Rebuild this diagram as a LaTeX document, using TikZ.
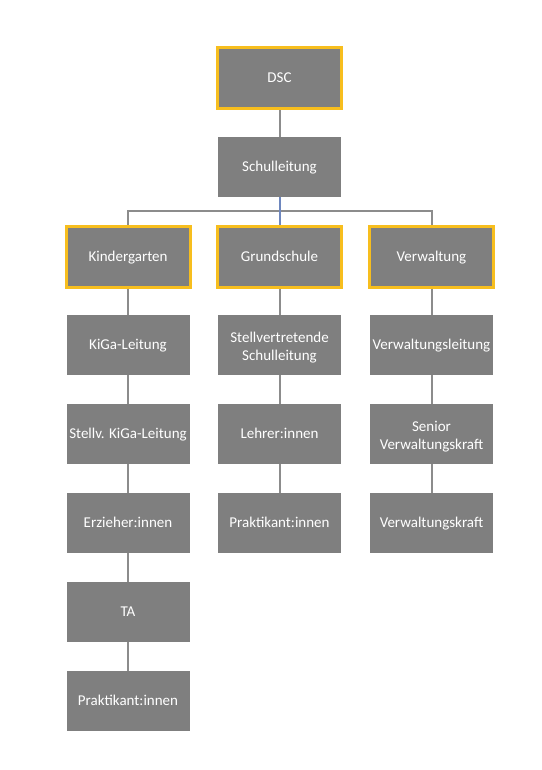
\documentclass[tikz,border=0pt]{standalone}
\usepackage{fontspec}
\setmainfont{Carlito}
\definecolor{boxgray}{RGB}{127,127,127}
\definecolor{boxyellow}{RGB}{247,190,30}
\definecolor{linegray}{RGB}{140,140,140}
\definecolor{lineblue}{RGB}{110,135,190}
\newcommand{\topstrut}{\rule{0pt}{15.5bp}}
\begin{document}
\begin{tikzpicture}[x=1bp,y=-1bp,
  basebox/.style={fill=boxgray,draw=none,minimum width=123bp,minimum height=60bp,
    inner sep=1bp,align=center,text=white,font=\fontsize{15bp}{17.5bp}\selectfont},
  unit/.style={basebox,text height=12.5bp,text depth=3bp},
  twounit/.style={basebox},
  headunit/.style={unit,draw=boxyellow,line width=3bp,minimum width=124bp,minimum height=61bp},
  conn/.style={draw=linegray,line width=2bp}]
\fill[white] (0,0) rectangle (542,770);
\useasboundingbox (0,0) rectangle (542,770);
% top
\node[headunit] (dsc) at (279.5,78) {DSC};
\node[unit] (sl) at (279.5,167) {Schulleitung};
% level 2
\node[headunit] (kg) at (128,256.5) {Kindergarten};
\node[headunit] (gs) at (279.5,256.5) {Grundschule};
\node[headunit] (vw) at (431.5,256.5) {Verwaltung};
% Kindergarten column
\node[unit] (kgl) at (128,345) {KiGa-Leitung};
\node[unit] (skgl) at (128,434) {Stellv. KiGa-Leitung};
\node[unit] (erz) at (128,523) {Erzieher:innen};
\node[unit] (ta) at (128,612) {TA};
\node[unit] (pk1) at (128,701) {Praktikant:innen};
% Grundschule column
\node[twounit] (ssl) at (279.5,345) {\topstrut Stellvertretende\\Schulleitung};
\node[unit] (leh) at (279.5,434) {Lehrer:innen};
\node[unit] (pk2) at (279.5,523) {Praktikant:innen};
% Verwaltung column
\node[unit] (vwl) at (431.5,345) {Verwaltungsleitung};
\node[twounit] (svk) at (431.5,434) {\topstrut Senior\\Verwaltungskraft};
\node[unit] (vk) at (431.5,523) {Verwaltungskraft};
% connectors
\coordinate (bar) at (279.5,210.5);
\draw[conn] (dsc.south) -- (sl.north);
\draw[conn] (kg.north) -- (kg.north |- bar) -- (vw.north |- bar) -- (vw.north);
\draw[conn,draw=lineblue] (sl.south) -- (gs.north);
\draw[conn] (kg) -- (kgl);
\draw[conn] (kgl) -- (skgl);
\draw[conn] (skgl) -- (erz);
\draw[conn] (erz) -- (ta);
\draw[conn] (ta) -- (pk1);
\draw[conn] (gs) -- (ssl);
\draw[conn] (ssl) -- (leh);
\draw[conn] (leh) -- (pk2);
\draw[conn] (vw) -- (vwl);
\draw[conn] (vwl) -- (svk);
\draw[conn] (svk) -- (vk);
\end{tikzpicture}
\end{document}
